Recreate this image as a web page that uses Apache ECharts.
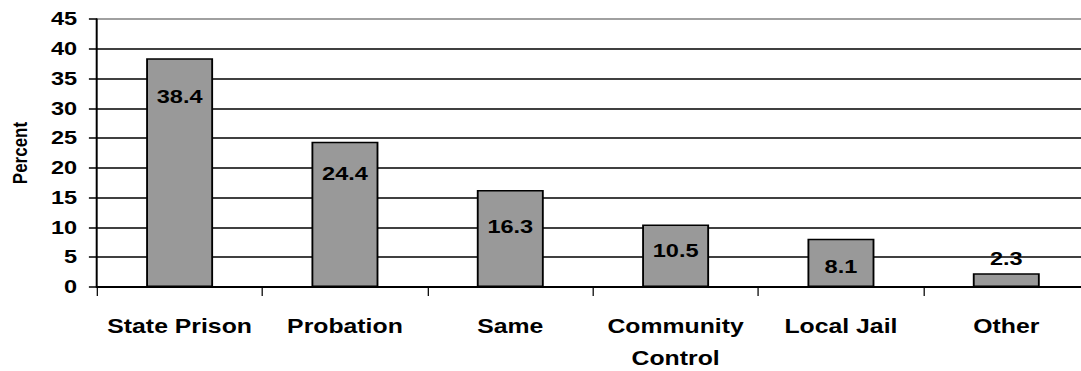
<!DOCTYPE html>
<html>
<head>
<meta charset="utf-8">
<script src="https://cdn.jsdelivr.net/npm/echarts@6/dist/echarts.min.js"></script>
<style>
  html, body { margin: 0; padding: 0; background: #ffffff; overflow: hidden; }
  #wrap { width: 1081px; height: 371px; overflow: hidden; }
  /* the chart is laid out on a narrower canvas and widened, giving the broad type */
  #chart { width: 872px; height: 371px; transform: scaleX(1.2397); transform-origin: 0 0; }
</style>
</head>
<body>
<div id="wrap"><div id="chart"></div></div>
<script>
const categories = ['State Prison', 'Probation', 'Same', 'Community\nControl', 'Local Jail', 'Other'];
const percents = [38.4, 24.4, 16.3, 10.5, 8.1, 2.3];
const yTicks = { min: 0, max: 45, step: 5 };

// distance (px) from each bar's top edge down to the centre of its value label
const labelDrop = [38, 32, 37, 26, 28, -15];

const FONT = "'Liberation Sans', Arial, Helvetica, sans-serif";

const chart = echarts.init(document.getElementById('chart'), null, { renderer: 'svg' });

const gridColors = [];
for (let v = yTicks.min; v <= yTicks.max; v += yTicks.step) {
  gridColors.push(v === yTicks.max ? '#808080' : '#000000');
}

chart.setOption({
  animation: false,
  backgroundColor: '#ffffff',
  grid: {
    left: 78.2, top: 19, width: 800.2, height: 268,
    containLabel: false,
    outerBoundsMode: 'none'
  },
  xAxis: {
    type: 'category',
    data: categories,
    boundaryGap: true,
    axisLine: { lineStyle: { color: '#000000', width: 2 } },
    axisTick: { show: true, length: 9, interval: 0, lineStyle: { color: '#000000', width: 1 } },
    axisLabel: {
      interval: 0,
      margin: 23,
      color: '#000000',
      fontFamily: FONT,
      fontWeight: 'bold',
      fontSize: 20,
      lineHeight: 32
    },
    splitLine: { show: false }
  },
  yAxis: {
    type: 'value',
    min: yTicks.min,
    max: yTicks.max,
    interval: yTicks.step,
    name: 'Percent',
    nameLocation: 'middle',
    nameRotate: 90,
    nameGap: 54,
    nameTextStyle: { color: '#000000', fontFamily: FONT, fontWeight: 'bold', fontSize: 17 },
    axisLine: { show: true, lineStyle: { color: '#000000', width: 1.6 } },
    axisTick: { show: true, length: 6.5, lineStyle: { color: '#000000', width: 1.5 } },
    axisLabel: {
      margin: 16,
      color: '#000000',
      fontFamily: FONT,
      fontWeight: 'bold',
      fontSize: 19
    },
    splitLine: { show: true, lineStyle: { color: gridColors, width: 1.6 } }
  },
  series: [{
    type: 'bar',
    barWidth: '40.5%',
    data: percents.map((v, i) => ({
      value: v,
      label: { position: ['50%', labelDrop[i]] }
    })),
    itemStyle: { color: '#999999', borderColor: '#000000', borderWidth: 1.5 },
    label: {
      show: true,
      align: 'center',
      verticalAlign: 'middle',
      color: '#000000',
      fontFamily: FONT,
      fontWeight: 'bold',
      fontSize: 19,
      formatter: p => p.value.toFixed(1)
    }
  }]
});
</script>
</body>
</html>
